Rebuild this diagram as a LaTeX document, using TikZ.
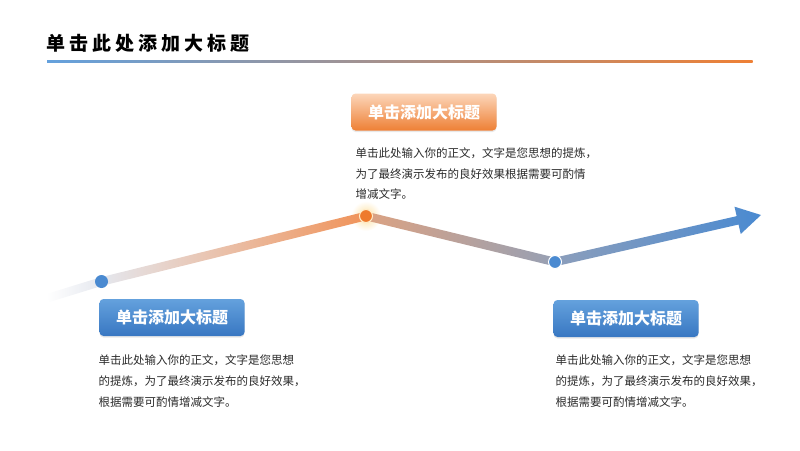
\documentclass[tikz,border=0pt]{standalone}
\usepackage{fontspec}
\setmainfont{Noto Sans CJK SC}
\usetikzlibrary{calc}
\usetikzlibrary{shadows}
\definecolor{lblue}{HTML}{64A1DD}
\definecolor{dblue}{HTML}{3877C2}
\definecolor{mblue}{HTML}{4A8AD1}
\definecolor{lorange}{HTML}{FCD6BA}
\definecolor{morange}{HTML}{EE8035}
\definecolor{dotorange}{HTML}{EE7A2C}
\definecolor{txt}{HTML}{2A2A2A}
\newcommand{\halfw}{4.3pt}
\tikzset{
  tbox/.style={rounded corners=4pt,minimum width=145pt,minimum height=37pt,text=white,
    font=\fontsize{16}{16}\selectfont\bfseries,
    drop shadow={opacity=0.18,shadow xshift=0pt,shadow yshift=-1.5pt}},
  bluebox/.style={tbox,top color=lblue,bottom color=dblue},
  orangebox/.style={tbox,top color=lorange,bottom color=morange},
  para/.style={anchor=north west,align=left,inner sep=0pt,text=txt,font=\fontsize{11.5}{20.7}\selectfont},
  dot/.style={circle,minimum size=13pt,inner sep=0pt}
}

\begin{document}
\begin{tikzpicture}[x=1pt,y=-1pt]
		\useasboundingbox (0,0) rectangle (800,450);
		\node[anchor=west,inner sep=0pt,font=\fontsize{19}{19}\selectfont\bfseries\addfontfeatures{LetterSpace=21}] (title) at (46,43) {单击此处添加大标题};
		\shade[left color=lblue,middle color={rgb,255:red,190;green,152;blue,192},right color=morange] (47,60.3) rectangle (752.5,62.3);
		\coordinate (s0) at (48,298);
		\coordinate (p1) at (101.5,281.5);
		\coordinate (p2) at (366,216);
		\coordinate (p3) at (555,262);
		\coordinate (tip) at (761,215);
		\coordinate (ab) at ($(tip)!24pt!(p3)$);
		\shade[inner color={rgb,255:red,253;green,224;blue,160},outer color=white] (p2) circle (15);
		\shade[left color=white,right color={rgb,255:red,228;green,231;blue,238}] ($(s0)!\halfw!90:(p1)$) -- ($(p1)!\halfw!-90:(s0)$) -- ($(p1)!\halfw!90:(s0)$) -- ($(s0)!\halfw!-90:(p1)$) -- cycle;
		\shade[left color={rgb,255:red,228;green,231;blue,238},right color={rgb,255:red,240;green,146;blue,88}] ($(p1)!\halfw!90:(p2)$) -- ($(p2)!\halfw!-90:(p1)$) -- ($(p2)!\halfw!90:(p1)$) -- ($(p1)!\halfw!-90:(p2)$) -- cycle;
		\shade[left color={rgb,255:red,220;green,162;blue,130},right color={rgb,255:red,150;green,160;blue,180}] ($(p2)!\halfw!90:(p3)$) -- ($(p3)!\halfw!-90:(p2)$) -- ($(p3)!\halfw!90:(p2)$) -- ($(p2)!\halfw!-90:(p3)$) -- cycle;
		\shade[left color={rgb,255:red,140;green,158;blue,187},right color=mblue] ($(p3)!\halfw!90:(ab)$) -- ($(ab)!\halfw!-90:(p3)$) -- ($(ab)!\halfw!90:(p3)$) -- ($(p3)!\halfw!-90:(ab)$) -- cycle
			(tip) -- ($(ab)!14pt!90:(tip)$) -- ($(ab)!14pt!-90:(tip)$) -- cycle;
		\node[dot,fill=mblue] (d1) at (p1) {};
		\node[dot,fill=dotorange,draw={rgb,255:red,255;green,236;blue,200},line width=1pt] (d2) at (p2) {};
		\node[dot,fill=mblue,draw=white,line width=1pt] (d3) at (p3) {};
		\node[orangebox] (t2) at (424,112) {单击添加大标题};
		\node[bluebox] (t1) at (172,317.5) {单击添加大标题};
		\node[bluebox] (t3) at (626,318.5) {单击添加大标题};
		\node[para] (b2) at (355.5,147.5) {单击此处输入你的正文，文字是您思想的提炼，\\为了最终演示发布的良好效果根据需要可酌情\\增减文字。};
		\node[para] (b1) at (98.5,355) {单击此处输入你的正文，文字是您思想\\的提炼，为了最终演示发布的良好效果，\\根据需要可酌情增减文字。};
		\node[para] (b3) at (555.5,355) {单击此处输入你的正文，文字是您思想\\的提炼，为了最终演示发布的良好效果，\\根据需要可酌情增减文字。};
		\end{tikzpicture}
\end{document}
